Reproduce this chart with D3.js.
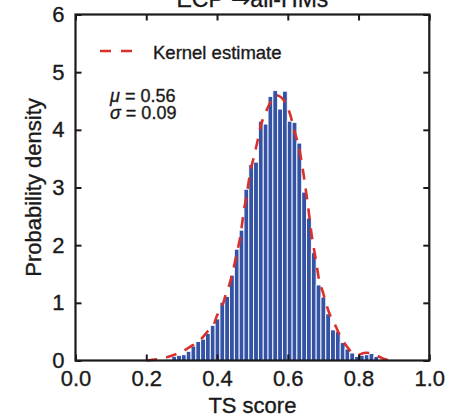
<!DOCTYPE html>
<html>
<head>
<meta charset="utf-8">
<script src="https://cdn.jsdelivr.net/npm/d3@7"></script>
<style>
  html, body { margin: 0; padding: 0; background: #fff; }
  svg { display: block; }
  text { font-family: "Liberation Sans", Arial, Helvetica, sans-serif; fill: #1a1a1a; stroke: #1a1a1a; stroke-width: 0.35px; }
</style>
</head>
<body>
<svg id="chart" width="468" height="419"></svg>
<script>
// Histogram of TS scores (probability density per bin)
const binStart = 0.2586;
const binWidth = 0.0136;
const density = [
  0.02, 0.07, 0.09, 0.10, 0.16, 0.25, 0.33, 0.37, 0.47, 0.61,
  0.72, 1.01, 1.11, 1.48, 1.93, 2.26, 2.97, 3.40, 3.44, 4.15,
  4.10, 4.58, 4.68, 4.36, 4.67, 4.15, 4.13, 3.77, 2.92, 2.47,
  1.87, 1.31, 1.10, 0.81, 0.53, 0.50, 0.31, 0.20, 0.13, 0.07,
  0.09, 0.10, 0.12, 0.07
];

// Kernel density estimate of the same scores
const kdeX = [0.20, 0.23, 0.26, 0.28, 0.30, 0.325, 0.35, 0.37, 0.39, 0.40,
  0.415, 0.425, 0.435, 0.445, 0.455, 0.465, 0.475, 0.485, 0.495, 0.505,
  0.515, 0.525, 0.54, 0.553, 0.565, 0.58, 0.595, 0.607, 0.62, 0.63,
  0.641, 0.65, 0.658, 0.667, 0.675, 0.683, 0.69, 0.698, 0.71, 0.72,
  0.735, 0.75, 0.77, 0.785, 0.80, 0.815, 0.83, 0.85, 0.87, 0.89];
const kdeY = [0.0, 0.02, 0.06, 0.10, 0.15, 0.24, 0.34, 0.48, 0.62, 0.78,
  0.95, 1.15, 1.32, 1.55, 1.84, 2.12, 2.56, 2.92, 3.30, 3.55,
  3.82, 4.10, 4.34, 4.50, 4.60, 4.57, 4.45, 4.26, 3.95, 3.74,
  3.37, 3.00, 2.64, 2.20, 1.90, 1.60, 1.35, 1.21, 0.95, 0.78,
  0.60, 0.40, 0.22, 0.12, 0.10, 0.13, 0.13, 0.09, 0.03, 0.0];

const xTicks = [0.0, 0.2, 0.4, 0.6, 0.8, 1.0];
const yTicks = [0, 1, 2, 3, 4, 5, 6];
const stats = [["\u03bc", "0.56"], ["\u03c3", "0.09"]];

const barColor = "#3553a5";
const kdeColor = "#d9302c";

const svg = d3.select("#chart");
const plotLeft = 75.5, plotRight = 429.3, plotTop = 14.5, plotBottom = 360.5;

const x = d3.scaleLinear().domain([0, 1]).range([plotLeft, plotRight]);
const y = d3.scaleLinear().domain([0, 6]).range([plotBottom, plotTop]);

// title (sits partly above the canvas)
const title = svg.append("text")
  .attr("x", (plotLeft + plotRight) / 2).attr("y", 7)
  .attr("text-anchor", "middle")
  .style("font-size", "23px");
title.append("tspan").text("ECP");
title.append("tspan").style("font-family", "'DejaVu Sans'").text(" \u2192");
title.append("tspan").text("all-HMs");

// bars
const bins = density.map((d, i) => ({ x0: binStart + i * binWidth, x1: binStart + (i + 1) * binWidth, d }));
svg.append("g").selectAll("rect").data(bins).join("rect")
  .attr("x", b => x(b.x0))
  .attr("width", b => x(b.x1) - x(b.x0))
  .attr("y", b => y(b.d))
  .attr("height", b => y(0) - y(b.d))
  .attr("fill", barColor)
  .attr("stroke", "#fff")
  .attr("stroke-width", 0.9);

// kernel estimate
const line = d3.line()
  .x((d, i) => x(kdeX[i]))
  .y(d => y(d))
  .curve(d3.curveCatmullRom);
svg.append("path")
  .attr("d", line(kdeY))
  .attr("fill", "none")
  .attr("stroke", kdeColor)
  .attr("stroke-width", 2.6)
  .attr("stroke-dasharray", "11,9");

// frame with inward ticks on all sides
const axisStyle = g => {
  g.select(".domain").remove();
  g.selectAll(".tick line").attr("stroke", "#1a1a1a").attr("stroke-width", 2);
  g.selectAll(".tick text").style("font-size", "22px").attr("fill", "#1a1a1a");
};
svg.append("g").attr("transform", `translate(0,${plotBottom})`)
  .call(d3.axisBottom(x).tickValues(xTicks).tickFormat(d3.format(".1f")).tickSizeInner(-6).tickSizeOuter(0).tickPadding(10))
  .call(axisStyle)
  .call(g => g.selectAll(".tick text").attr("dy", "0.71em"));
svg.append("g").attr("transform", `translate(0,${plotTop})`)
  .call(d3.axisTop(x).tickValues(xTicks).tickFormat("").tickSizeInner(-6).tickSizeOuter(0))
  .call(axisStyle);
svg.append("g").attr("transform", `translate(${plotLeft},0)`)
  .call(d3.axisLeft(y).tickValues(yTicks).tickFormat(d3.format("d")).tickSizeInner(-6).tickSizeOuter(0).tickPadding(11))
  .call(axisStyle);
svg.append("g").attr("transform", `translate(${plotRight},0)`)
  .call(d3.axisRight(y).tickValues(yTicks).tickFormat("").tickSizeInner(-6).tickSizeOuter(0))
  .call(axisStyle);

svg.append("rect")
  .attr("x", plotLeft).attr("y", plotTop)
  .attr("width", plotRight - plotLeft).attr("height", plotBottom - plotTop)
  .attr("fill", "none").attr("stroke", "#1a1a1a").attr("stroke-width", 2.2);

// axis labels
svg.append("text")
  .attr("x", (plotLeft + plotRight) / 2).attr("y", 413)
  .attr("text-anchor", "middle")
  .style("font-size", "22px")
  .text("TS score");
svg.append("text")
  .attr("transform", `translate(41,${(plotTop + plotBottom) / 2}) rotate(-90)`)
  .attr("text-anchor", "middle")
  .style("font-size", "22px")
  .text("Probability density");

// legend
svg.append("line")
  .attr("x1", 100).attr("x2", 133).attr("y1", 51).attr("y2", 51)
  .attr("stroke", kdeColor).attr("stroke-width", 2.6)
  .attr("stroke-dasharray", "11,10");
svg.append("text")
  .attr("x", 153).attr("y", 59)
  .style("font-size", "18.5px")
  .text("Kernel estimate");

// summary statistics
stats.forEach((s, i) => {
  const t = svg.append("text")
    .attr("x", 110).attr("y", 102 + i * 17)
    .style("font-size", "18px");
  t.append("tspan").style("font-style", "italic").text(s[0]);
  t.append("tspan").text(" = " + s[1]);
});
</script>
</body>
</html>
